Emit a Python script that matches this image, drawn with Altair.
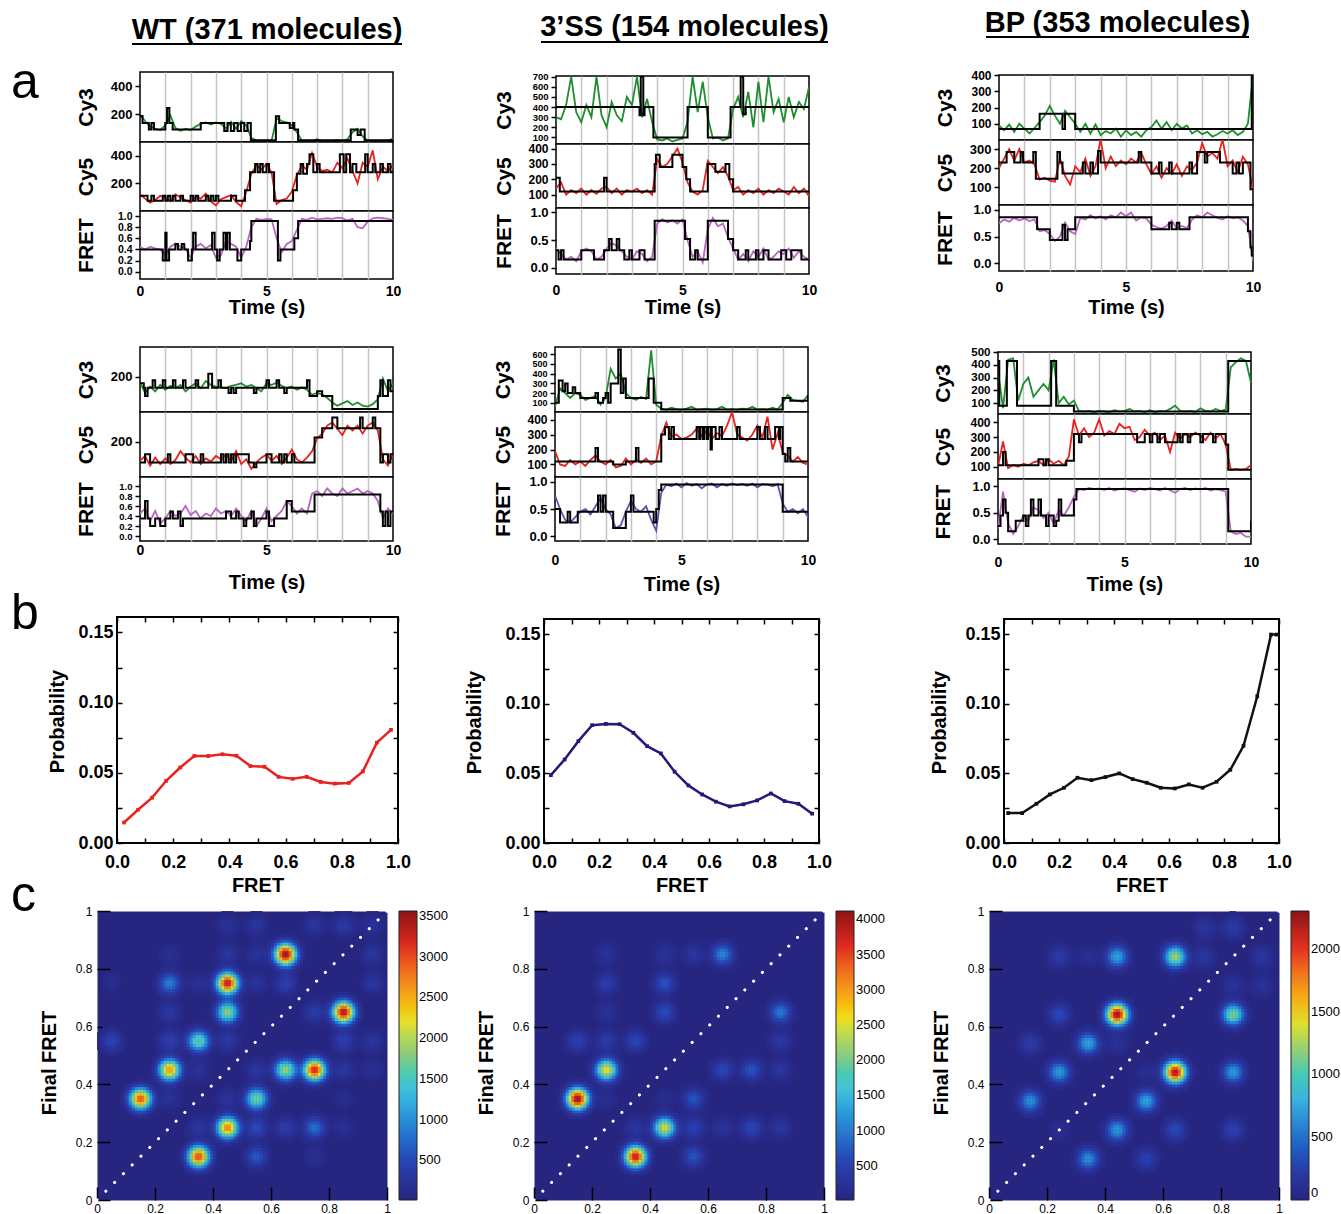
import altair as alt
import numpy as np
import pandas as pd

FONT = "Liberation Sans"

# ---------------------------------------------------------------- data
TIME = [0.0, 0.2, 0.4, 0.6, 0.8, 1.0, 1.2, 1.4, 1.6, 1.8,
        2.0, 2.2, 2.4, 2.6, 2.8, 3.0, 3.2, 3.4, 3.6, 3.8,
        4.0, 4.2, 4.4, 4.6, 4.8, 5.0, 5.2, 5.4, 5.6, 5.8,
        6.0, 6.2, 6.4, 6.6, 6.8, 7.0, 7.2, 7.4, 7.6, 7.8,
        8.0, 8.2, 8.4, 8.6, 8.8, 9.0, 9.2, 9.4, 9.6, 9.8,
        10.0]

# WT, molecule 1
WT1_CY3 = [195, 150, 110, 95, 85, 120, 190, 100, 80, 95,
           85, 110, 130, 140, 125, 140, 130, 95, 145, 95,
           150, 120, 30, 10, 5, 10, 8, 170, 150, 140,
           120, 70, 10, 5, 8, 20, 5, 10, 8, 15,
           5, 20, 70, 95, 40, 10, 5, 10, 5, 8,
           25]
WT1_CY3_FIT = [(0, 185), (0.1, 136), (0.35, 89), (0.45, 136), (0.55, 89), (1.0, 136), (1.07, 242),
               (1.16, 136), (1.29, 89), (2.4, 136), (3.33, 78), (3.46, 136), (3.59, 78), (3.72, 136),
               (3.86, 78), (3.99, 136), (4.12, 78), (4.25, 136), (4.38, 12), (5.37, 184), (5.5, 136),
               (5.92, 100), (6.05, 136), (6.1, 89), (6.25, 12), (8.33, 89), (8.6, 50), (8.72, 89),
               (8.88, 12), (10, 12)]
WT1_CY5 = [120, 90, 60, 80, 110, 95, 70, 120, 100, 80,
           60, 105, 90, 125, 70, 40, 85, 100, 115, 65,
           35, 140, 270, 330, 300, 340, 280, 50, 80, 90,
           140, 260, 330, 300, 420, 320, 290, 300, 280, 350,
           310, 380, 290, 200, 350, 320, 440, 230, 320, 290,
           330]
WT1_CY5_FIT = [(0, 110), (0.3, 75), (0.45, 110), (0.55, 75), (0.9, 110), (1.0, 75), (1.1, 110), (1.2, 75),
               (1.3, 110), (1.4, 75), (1.6, 110), (1.7, 75), (2.0, 110), (2.1, 75), (2.2, 110), (2.3, 75),
               (2.6, 110), (2.7, 75), (2.8, 110), (2.9, 75), (3.0, 110), (3.1, 75), (3.6, 110), (3.8, 75),
               (4.15, 150), (4.35, 280), (4.55, 340), (4.65, 280), (4.75, 340), (4.85, 280), (5.0, 340),
               (5.1, 280), (5.3, 75), (6.05, 150), (6.2, 270), (6.35, 340), (6.45, 270), (6.6, 340),
               (6.7, 412), (6.85, 280), (7.0, 340), (7.1, 280), (7.9, 412), (8.05, 280), (8.15, 412),
               (8.3, 280), (8.4, 340), (8.55, 280), (8.9, 412), (9.0, 280), (9.2, 340), (9.3, 280),
               (9.5, 340), (9.6, 280), (9.8, 340), (9.9, 280), (10, 280)]
WT1_FRET = [0.45, 0.40, 0.45, 0.42, 0.40, 0.30, 0.45, 0.50, 0.45, 0.42,
            0.25, 0.45, 0.50, 0.42, 0.48, 0.25, 0.30, 0.55, 0.50, 0.45,
            0.25, 0.45, 0.80, 0.95, 0.93, 0.95, 0.94, 0.60, 0.35, 0.50,
            0.55, 0.75, 0.95, 0.93, 0.97, 0.94, 0.95, 0.96, 0.95, 0.97,
            0.96, 0.92, 0.95, 0.80, 0.78, 0.90, 0.96, 0.97, 0.96, 0.95,
            0.93]
WT1_FRET_FIT = [(0, 0.4), (0.9, 0.2), (1.0, 0.7), (1.05, 0.2), (1.15, 0.4), (1.4, 0.5), (1.5, 0.4),
                (1.65, 0.5), (1.75, 0.4), (1.9, 0.2), (2.05, 0.4), (2.1, 0.7), (2.2, 0.4), (2.85, 0.7),
                (2.95, 0.4), (3.05, 0.2), (3.15, 0.4), (3.3, 0.7), (3.4, 0.4), (3.45, 0.7), (3.55, 0.4),
                (3.85, 0.2), (4.0, 0.4), (4.35, 0.55), (4.4, 0.91), (5.45, 0.2), (5.55, 0.4), (6.1, 0.6),
                (6.25, 0.91), (10, 0.91)]

# 3'SS, molecule 1
SS1_CY3 = [300, 280, 420, 700, 350, 250, 420, 300, 700, 320,
           200, 450, 320, 260, 500, 420, 700, 300, 480, 250,
           80, 70, 90, 60, 75, 90, 250, 700, 350, 650,
           300, 90, 100, 70, 90, 380, 500, 300, 550, 200,
           650, 250, 700, 350, 480, 250, 500, 300, 450, 380,
           600]
SS1_CY3_FIT = [(0, 400), (3.3, 320), (3.35, 700), (3.45, 320), (3.5, 400), (3.85, 100), (5.2, 400),
               (6.0, 100), (6.9, 400), (7.3, 700), (7.4, 330), (7.5, 400), (10, 400)]
SS1_CY5 = [140, 180, 100, 130, 110, 140, 100, 130, 105, 140,
           150, 110, 140, 100, 130, 120, 140, 110, 130, 100,
           330, 280, 300, 350, 400, 310, 180, 120, 100, 130,
           320, 280, 240, 280, 220, 130, 150, 100, 130, 110,
           140, 100, 130, 110, 140, 120, 100, 150, 110, 140,
           90]
SS1_CY5_FIT = [(0, 210), (0.15, 120), (1.9, 210), (2.0, 120), (3.9, 300), (3.95, 360), (4.1, 280),
               (4.6, 360), (5.0, 280), (5.15, 200), (5.3, 120), (6.0, 300), (6.3, 250), (6.7, 300),
               (6.85, 200), (7.0, 120), (10, 120)]
SS1_FRET = [0.35, 0.25, 0.15, 0.20, 0.12, 0.30, 0.35, 0.30, 0.15, 0.20,
            0.35, 0.45, 0.40, 0.30, 0.20, 0.15, 0.30, 0.25, 0.12, 0.20,
            0.80, 0.88, 0.82, 0.86, 0.80, 0.87, 0.50, 0.20, 0.30, 0.10,
            0.70, 0.90, 0.75, 0.80, 0.55, 0.35, 0.15, 0.25, 0.12, 0.30,
            0.20, 0.35, 0.15, 0.20, 0.30, 0.25, 0.35, 0.18, 0.30, 0.20,
            0.15]
SS1_FRET_FIT = [(0, 0.32), (0.1, 0.15), (0.2, 0.32), (0.3, 0.15), (1.0, 0.32), (1.5, 0.15), (1.9, 0.32),
                (2.1, 0.52), (2.2, 0.32), (2.4, 0.52), (2.5, 0.32), (2.7, 0.15), (2.9, 0.32), (3.0, 0.15),
                (3.3, 0.32), (3.5, 0.15), (3.9, 0.85), (5.1, 0.52), (5.3, 0.15), (5.5, 0.32), (5.6, 0.15),
                (6.0, 0.85), (6.8, 0.52), (7.0, 0.32), (7.2, 0.15), (7.5, 0.32), (7.6, 0.15), (7.9, 0.32),
                (8.0, 0.15), (8.2, 0.32), (8.4, 0.15), (8.9, 0.32), (9.1, 0.15), (9.3, 0.32), (9.7, 0.15),
                (10, 0.15)]

# BP, molecule 1
BP1_CY3 = [90, 60, 95, 50, 100, 70, 40, 75, 110, 150,
           210, 150, 100, 180, 140, 100, 50, 100, 40, 95,
           30, 55, 40, 70, 20, 60, 30, 50, 20, 60,
           80, 120, 70, 110, 60, 100, 70, 90, 40, 60,
           35, 50, 20, 35, 55, 40, 60, 30, 50, 100,
           400]
BP1_CY3_FIT = [(0, 68), (1.6, 161), (2.5, 68), (2.6, 161), (3.0, 68), (9.95, 400), (10, 400)]
BP1_CY5 = [200, 250, 300, 240, 300, 230, 240, 220, 140, 150,
           135, 130, 250, 160, 115, 210, 180, 250, 160, 210,
           350, 200, 260, 210, 240, 220, 250, 230, 280, 220,
           170, 210, 150, 200, 170, 220, 160, 210, 190, 230,
           330, 260, 280, 250, 350, 210, 240, 180, 260, 220,
           90]
BP1_CY5_FIT = [(0, 230), (0.3, 285), (0.6, 230), (0.85, 285), (0.95, 230), (1.35, 285), (1.45, 145),
               (2.3, 285), (2.4, 230), (2.5, 172), (3.3, 230), (3.4, 172), (3.6, 230), (3.7, 172),
               (3.9, 290), (4.0, 230), (5.5, 285), (5.6, 230), (6.0, 172), (6.3, 230), (6.4, 172),
               (6.7, 230), (6.8, 172), (7.5, 230), (7.6, 172), (7.8, 285), (8.1, 230), (8.2, 285),
               (8.7, 230), (9.2, 172), (9.35, 230), (9.45, 172), (9.6, 230), (9.9, 90), (10, 90)]
BP1_FRET = [0.75, 0.82, 0.78, 0.85, 0.80, 0.84, 0.79, 0.82, 0.60, 0.62,
            0.55, 0.42, 0.50, 0.76, 0.60, 0.55, 0.85, 0.82, 0.90, 0.84,
            0.88, 0.82, 0.90, 0.86, 0.95, 0.88, 0.95, 0.80, 0.86, 0.84,
            0.72, 0.68, 0.65, 0.70, 0.80, 0.65, 0.70, 0.66, 0.82, 0.90,
            0.86, 0.95, 0.90, 0.85, 0.82, 0.88, 0.84, 0.86, 0.80, 0.70,
            0.05]
BP1_FRET_FIT = [(0, 0.86), (1.5, 0.64), (2.0, 0.44), (2.5, 0.72), (2.6, 0.44), (2.7, 0.64), (3.0, 0.86),
                (6.0, 0.64), (6.7, 0.76), (6.8, 0.64), (7.0, 0.76), (7.1, 0.64), (7.5, 0.86), (9.8, 0.6),
                (9.9, 0.3), (9.95, 0.15), (10, 0.15)]

# WT, molecule 2
WT2_CY3 = [165, 100, 140, 110, 150, 120, 145, 130, 150, 110,
           140, 160, 130, 175, 150, 140, 135, 130, 145, 150,
           160, 140, 150, 130, 110, 160, 150, 165, 145, 130,
           140, 120, 135, 120, 90, 100, 90, 70, 40, 20,
           35, 50, 25, 40, 20, 15, 30, 60, 190, 110,
           160]
WT2_CY3_FIT = [(0, 160), (0.15, 133), (0.2, 81), (0.3, 133), (0.5, 179), (0.6, 133), (0.9, 179), (1.0, 133),
               (1.3, 179), (1.4, 133), (1.7, 179), (1.8, 133), (2.2, 179), (2.3, 133), (2.7, 220),
               (2.85, 133), (3.1, 179), (3.2, 133), (3.5, 100), (3.6, 133), (3.7, 100), (3.8, 133),
               (4.5, 100), (4.6, 133), (5.0, 179), (5.1, 133), (5.4, 179), (5.5, 133), (5.7, 100),
               (5.8, 133), (6.6, 179), (6.7, 81), (7.0, 110), (7.2, 81), (7.6, 0), (9.4, 81), (9.5, 179),
               (9.6, 81), (9.8, 179), (9.9, 110), (10, 110)]
WT2_CY5 = [80, 110, 50, 100, 60, 95, 60, 85, 140, 100,
           70, 110, 60, 95, 75, 110, 90, 120, 80, 140,
           60, 90, 30, 70, 100, 120, 80, 110, 60, 100,
           150, 90, 70, 100, 140, 220, 250, 300, 320, 280,
           240, 300, 270, 300, 250, 300, 320, 270, 90, 50,
           120]
WT2_CY5_FIT = [(0, 69), (0.2, 121), (0.4, 69), (1.1, 121), (1.2, 69), (1.8, 121), (2.1, 69), (2.4, 121),
               (2.5, 69), (3.2, 121), (3.3, 69), (3.4, 121), (3.5, 69), (3.6, 121), (3.7, 69), (3.8, 121),
               (4.3, 69), (4.5, 40), (4.6, 69), (5.0, 121), (5.2, 69), (5.5, 121), (5.6, 69), (5.7, 121),
               (5.8, 69), (6.0, 121), (6.1, 69), (6.9, 225), (7.2, 283), (7.6, 350), (7.8, 283),
               (8.7, 350), (8.8, 283), (9.2, 350), (9.3, 283), (9.5, 69), (9.6, 121), (9.8, 69),
               (9.9, 121), (10, 121)]
WT2_FRET = [0.45, 0.55, 0.30, 0.50, 0.25, 0.35, 0.50, 0.40, 0.45, 0.60,
            0.42, 0.50, 0.35, 0.45, 0.40, 0.55, 0.45, 0.50, 0.40, 0.55,
            0.40, 0.30, 0.50, 0.20, 0.35, 0.55, 0.30, 0.40, 0.50, 0.70,
            0.60, 0.45, 0.55, 0.45, 0.85, 0.90, 0.80, 0.95, 0.85, 0.80,
            0.95, 0.85, 0.90, 0.95, 0.85, 0.90, 0.85, 0.70, 0.35, 0.55,
            0.45]
WT2_FRET_FIT = [(0, 0.35), (0.2, 0.7), (0.3, 0.35), (0.4, 0.2), (0.6, 0.35), (0.8, 0.2), (1.0, 0.35),
                (1.2, 0.49), (1.3, 0.35), (1.5, 0.49), (1.6, 0.2), (1.7, 0.35), (3.4, 0.49), (3.6, 0.35),
                (3.8, 0.49), (3.9, 0.35), (4.1, 0.2), (4.2, 0.35), (4.4, 0.49), (4.5, 0.2), (4.6, 0.35),
                (5.0, 0.49), (5.1, 0.2), (5.3, 0.35), (5.8, 0.7), (6.0, 0.49), (6.9, 0.83), (9.5, 0.49),
                (9.6, 0.2), (9.7, 0.49), (9.8, 0.2), (9.9, 0.49), (10, 0.49)]

# 3'SS, molecule 2
SS2_CY3 = [60, 250, 200, 150, 200, 180, 130, 150, 170, 80,
           150, 450, 350, 400, 200, 150, 130, 160, 140, 640,
           80, 40, 30, 50, 35, 30, 40, 60, 30, 35,
           40, 30, 35, 60, 30, 35, 30, 40, 35, 60,
           30, 35, 30, 50, 30, 100, 180, 130, 120, 110,
           180]
SS2_CY3_FIT = [(0, 100), (0.15, 330), (0.3, 220), (0.4, 300), (0.5, 200), (0.7, 260), (0.8, 200),
               (1.0, 150), (1.6, 200), (1.7, 100), (1.9, 150), (2.0, 200), (2.1, 100), (2.2, 300),
               (2.5, 650), (2.6, 200), (2.7, 350), (2.8, 150), (3.7, 350), (3.9, 100), (4.2, 30),
               (9.0, 150), (9.3, 120), (10, 180)]
SS2_CY5 = [190, 100, 90, 130, 100, 120, 90, 130, 160, 120,
           100, 130, 80, 90, 140, 100, 130, 110, 140, 100,
           120, 290, 380, 290, 300, 270, 280, 300, 340, 290,
           330, 270, 310, 290, 360, 450, 300, 280, 260, 300,
           360, 280, 420, 200, 310, 180, 160, 120, 150, 110,
           100]
SS2_CY5_FIT = [(0, 120), (1.6, 210), (1.7, 120), (2.3, 100), (2.8, 120), (3.2, 210), (3.3, 120), (4.2, 300),
               (4.35, 350), (4.5, 270), (4.6, 350), (4.7, 270), (5.6, 350), (5.7, 270), (5.75, 350),
               (5.85, 270), (5.9, 350), (6.0, 270), (6.05, 350), (6.15, 200), (6.2, 350), (6.35, 270),
               (6.5, 350), (6.6, 270), (7.2, 350), (7.3, 270), (8.0, 350), (8.1, 270), (8.3, 350),
               (8.4, 270), (8.7, 350), (8.85, 270), (8.9, 350), (9.0, 170), (9.1, 120), (9.2, 210),
               (9.3, 120), (10, 120)]
SS2_FRET = [0.75, 0.50, 0.30, 0.25, 0.35, 0.45, 0.50, 0.40, 0.55, 0.70,
            0.50, 0.40, 0.15, 0.20, 0.45, 0.65, 0.50, 0.45, 0.55, 0.30,
            0.10, 0.80, 0.95, 0.92, 0.97, 0.90, 0.98, 0.93, 0.96, 0.88,
            0.95, 0.97, 0.90, 0.96, 0.93, 0.97, 0.94, 0.96, 0.93, 0.97,
            0.90, 0.96, 0.95, 0.92, 0.96, 0.60, 0.45, 0.50, 0.42, 0.50,
            0.35]
SS2_FRET_FIT = [(0, 0.5), (0.2, 0.25), (0.5, 0.45), (0.6, 0.25), (0.9, 0.45), (1.7, 0.75), (1.8, 0.45),
                (1.9, 0.75), (2.0, 0.45), (2.3, 0.15), (2.8, 0.45), (3.0, 0.75), (3.1, 0.45), (3.9, 0.25),
                (4.0, 0.5), (4.1, 0.85), (4.2, 0.95), (9.0, 0.45), (10, 0.45)]

# BP, molecule 2
BP2_CY3 = [350, 60, 440, 450, 120, 250, 300, 150, 200, 250,
           200, 440, 100, 150, 90, 120, 40, 35, 40, 30,
           40, 35, 30, 45, 35, 40, 55, 35, 40, 30,
           45, 30, 40, 35, 55, 80, 40, 35, 40, 30,
           60, 40, 35, 55, 40, 50, 380, 420, 450, 430,
           260]
BP2_CY3_FIT = [(0, 430), (0.05, 80), (0.35, 430), (0.75, 80), (2.1, 430), (2.3, 80), (3.0, 35),
               (9.1, 430), (10, 430)]
BP2_CY5 = [100, 270, 90, 110, 100, 120, 110, 130, 140, 110,
           150, 120, 140, 110, 170, 420, 310, 360, 300, 330,
           420, 310, 340, 320, 390, 360, 370, 280, 300, 350,
           310, 330, 280, 310, 200, 330, 290, 320, 300, 330,
           310, 280, 330, 290, 320, 250, 80, 85, 80, 85,
           110]
BP2_CY5_FIT = [(0, 110), (0.2, 200), (0.3, 110), (1.6, 150), (1.8, 110), (1.9, 150), (2.0, 110),
               (2.7, 140), (3.0, 321), (3.2, 265), (3.3, 321), (5.5, 265), (5.8, 321), (6.0, 265),
               (6.1, 321), (6.3, 265), (6.4, 321), (6.6, 265), (7.1, 321), (7.2, 265), (7.3, 321),
               (7.5, 265), (7.6, 321), (8.0, 265), (8.1, 321), (8.5, 265), (8.6, 321), (9.0, 250),
               (9.1, 80), (10, 80)]
BP2_FRET = [0.20, 0.90, 0.30, 0.10, 0.25, 0.45, 0.35, 0.60, 0.55, 0.40,
            0.50, 0.30, 0.55, 0.45, 0.60, 0.80, 0.95, 0.93, 0.97, 0.95,
            0.96, 0.93, 0.97, 0.92, 0.95, 0.96, 0.93, 0.90, 0.96, 0.93,
            0.97, 0.95, 0.92, 0.97, 0.93, 0.88, 0.95, 0.97, 0.93, 0.96,
            0.94, 0.97, 0.92, 0.95, 0.93, 0.90, 0.15, 0.10, 0.12, 0.05,
            0.05]
BP2_FRET_FIT = [(0, 0.25), (0.1, 0.45), (0.2, 0.75), (0.3, 0.5), (0.4, 0.15), (0.7, 0.35), (1.0, 0.45),
                (1.1, 0.25), (1.2, 0.45), (1.3, 0.75), (1.4, 0.45), (1.6, 0.75), (1.7, 0.45), (1.9, 0.25),
                (2.0, 0.45), (2.2, 0.25), (2.3, 0.35), (2.4, 0.75), (2.5, 0.45), (3.0, 0.75), (3.1, 0.95),
                (9.1, 0.15), (10, 0.35)]

# panel b: FRET histograms
WT_PROB_X = [0.025, 0.075, 0.125, 0.175, 0.225, 0.275, 0.325, 0.375, 0.425, 0.475,
             0.525, 0.575, 0.625, 0.675, 0.725, 0.775, 0.825, 0.875, 0.925, 0.975]
WT_PROB = [0.0146, 0.0237, 0.0323, 0.0443, 0.0538, 0.0620, 0.0620, 0.0632, 0.0622, 0.0548,
           0.0543, 0.0471, 0.0457, 0.0471, 0.0435, 0.0423, 0.0428, 0.0510, 0.0715, 0.0806]
SS_PROB_X = WT_PROB_X
SS_PROB = [0.0488, 0.0600, 0.0732, 0.0847, 0.0856, 0.0854, 0.0792, 0.0696, 0.0644, 0.0512,
           0.0414, 0.0349, 0.0297, 0.0263, 0.0278, 0.0306, 0.0356, 0.0301, 0.0282, 0.0211]
BP_PROB_X = [0.015, 0.066, 0.118, 0.167, 0.218, 0.267, 0.318, 0.369, 0.419, 0.468,
             0.519, 0.570, 0.621, 0.672, 0.722, 0.773, 0.823, 0.871, 0.921, 0.971, 0.991]
BP_PROB = [0.0215, 0.0215, 0.0282, 0.0349, 0.0397, 0.0469, 0.0452, 0.0474, 0.0500, 0.0459,
           0.0433, 0.0397, 0.0392, 0.0421, 0.0397, 0.0440, 0.0526, 0.0699, 0.1055, 0.1498, 0.1498]

# panel c: transition density peaks (initial FRET, final FRET, counts)
WT_TDP = [(0.65, 0.85, 3500), (0.45, 0.75, 3300), (0.85, 0.65, 3400), (0.45, 0.65, 1850), (0.35, 0.55, 1650),
          (0.25, 0.45, 2600), (0.15, 0.35, 2950), (0.65, 0.45, 1900), (0.75, 0.45, 3200), (0.55, 0.35, 1750),
          (0.45, 0.25, 2700), (0.35, 0.15, 3000), (0.25, 0.75, 900), (0.75, 0.25, 800), (0.55, 0.15, 650),
          (0.55, 0.25, 550), (0.65, 0.25, 400), (0.45, 0.55, 350), (0.25, 0.55, 450), (0.05, 0.55, 500),
          (0.25, 0.65, 350), (0.65, 0.75, 450), (0.85, 0.55, 450), (0.75, 0.65, 400), (0.95, 0.75, 300),
          (0.95, 0.85, 300), (0.45, 0.95, 250), (0.55, 0.95, 300), (0.85, 0.95, 350), (0.75, 0.95, 300),
          (0.95, 0.95, 250), (0.35, 0.25, 300), (0.45, 0.35, 250), (0.25, 0.35, 250), (0.35, 0.45, 250),
          (0.55, 0.45, 300), (0.85, 0.45, 300), (0.95, 0.45, 200), (0.95, 0.55, 300), (0.85, 0.25, 200),
          (0.85, 0.35, 150), (0.75, 0.15, 200), (0.05, 0.75, 150), (0.25, 0.85, 200), (0.45, 0.85, 300),
          (0.55, 0.85, 250), (0.35, 0.75, 200), (0.55, 0.75, 250)]
SS_TDP = [(0.15, 0.35, 4050), (0.35, 0.15, 3800), (0.25, 0.45, 2600), (0.45, 0.25, 2500), (0.65, 0.85, 1100),
          (0.85, 0.65, 1000), (0.45, 0.75, 700), (0.45, 0.65, 650), (0.35, 0.55, 600), (0.15, 0.55, 550),
          (0.25, 0.55, 450), (0.25, 0.75, 500), (0.25, 0.85, 300), (0.45, 0.85, 300), (0.55, 0.85, 350),
          (0.25, 0.65, 300), (0.65, 0.45, 600), (0.75, 0.45, 700), (0.85, 0.45, 350), (0.55, 0.35, 700),
          (0.55, 0.25, 550), (0.55, 0.15, 700), (0.65, 0.25, 300), (0.75, 0.25, 600), (0.85, 0.25, 350),
          (0.35, 0.25, 350), (0.85, 0.55, 400), (0.25, 0.35, 200), (0.45, 0.35, 150)]
BP_TDP = [(0.442, 0.642, 2250), (0.642, 0.442, 2200), (0.642, 0.842, 1250), (0.842, 0.642, 1150),
          (0.442, 0.842, 750), (0.342, 0.542, 750), (0.242, 0.442, 700), (0.142, 0.342, 650),
          (0.542, 0.342, 750), (0.442, 0.242, 700), (0.342, 0.142, 650), (0.842, 0.442, 700),
          (0.242, 0.642, 350), (0.142, 0.542, 250), (0.242, 0.842, 250), (0.342, 0.842, 120),
          (0.742, 0.842, 200), (0.842, 0.942, 250), (0.742, 0.942, 180), (0.942, 0.842, 200),
          (0.942, 0.742, 150), (0.842, 0.742, 150), (0.642, 0.242, 350), (0.542, 0.142, 300),
          (0.842, 0.242, 300), (0.442, 0.542, 150), (0.242, 0.242, 100), (0.542, 0.442, 100)]
DIAG_X = [0.0, 1.0]
DIAG_Y = [0.0, 1.0]

# ---------------------------------------------------------------- styling
GREEN, RED, MAGENTA, VIOLET = "#1f8e2f", "#e8221e", "#b866c1", "#5a54b6"
JET_STOPS = [0, 0.125, 0.25, 0.375, 0.5, 0.625, 0.75, 0.875, 1.0]
JET = ["#262680", "#2a3fb0", "#2f80d0", "#4cbfe0", "#8dc97e", "#f0e01e", "#f28a22", "#e32a20", "#8c1515"]
SIG = 0.025

ONE = pd.DataFrame({"k": [0]})
NOVIEW = alt.ViewBackground(stroke="transparent", fill="transparent")
TICK_T = [0, 1, 2, 3, 4, 5, 6, 7, 8, 9, 10]
TICK_F10 = [0.0, 0.1, 0.2, 0.3, 0.4, 0.5, 0.6, 0.7, 0.8, 0.9, 1.0]
TICK_F5 = [0.0, 0.2, 0.4, 0.6, 0.8, 1.0]
TICK_P = [0.0, 0.025, 0.05, 0.075, 0.1, 0.125, 0.15]
GRID_COLOR = {"condition": {"test": "datum.value > 0.01 && datum.value < 9.99", "value": "#c4c4c4"},
              "value": "transparent"}


def spacer(w, h):
    return alt.Chart(ONE).mark_point(opacity=0, size=1).encode(
        x=alt.value(1), y=alt.value(1)).properties(width=w, height=h, view=NOVIEW)


def letter_cell(letter):
    return alt.Chart(ONE).mark_text(text=letter, font=FONT, fontSize=50, align="left",
                                    baseline="alphabetic", color="black").encode(
        x=alt.value(0), y=alt.value(40)).properties(width=40, height=40, view=NOVIEW)


def title_cell(text, w, h, base_y, ul_y):
    t = alt.Chart(ONE).mark_text(text=text, font=FONT, fontSize=29, fontWeight="bold", align="center",
                                 baseline="alphabetic", color="black").encode(x=alt.value(w / 2), y=alt.value(base_y))
    r = alt.Chart(ONE).mark_rule(color="black", strokeWidth=2.2).encode(
        x=alt.value(0), x2=alt.value(w), y=alt.value(ul_y))
    return alt.layer(t, r).properties(width=w, height=h, view=NOVIEW)


def trace_panel(noisy, fit, color, dom, yvals, fmt, ytitle, w, h, title_x, bottom=None, lfs=13):
    nd = pd.DataFrame({"t": TIME, "v": noisy})
    fd = pd.DataFrame({"t": [p[0] for p in fit], "v": [p[1] for p in fit]})
    if bottom:
        lab_pad, title_y = bottom
        xaxis = alt.Axis(values=TICK_T, grid=True, gridColor=GRID_COLOR, gridWidth=1.5, domain=False,
                         ticks=False, labels=True, labelExpr="datum.value % 5 === 0 ? datum.label : ''",
                         labelFlush=False, labelPadding=lab_pad, labelFontSize=14, labelFontWeight="bold",
                         labelOverlap=False, title="Time (s)", titleFontSize=20, titleFontWeight="bold",
                         titleBaseline="top", titleX=w / 2, titleY=title_y)
    else:
        xaxis = alt.Axis(values=TICK_T, grid=True, gridColor=GRID_COLOR, gridWidth=1.5, domain=False,
                         ticks=False, labels=False, title=None)
    x = alt.X("t:Q", scale=alt.Scale(domain=[0, 10], nice=False, zero=False), axis=xaxis)
    y = alt.Y("v:Q", scale=alt.Scale(domain=dom, nice=False, zero=False),
              axis=alt.Axis(values=yvals, format=fmt, labelOverlap=False, labelFontSize=lfs,
                            labelFontWeight="bold", labelPadding=3, tickSize=5, tickWidth=1.5, domain=False,
                            grid=False, title=ytitle, titleFontSize=21, titleFontWeight="bold",
                            titleBaseline="alphabetic", titleX=title_x, titleY=h / 2, titleAngle=-90))
    noisy_l = alt.Chart(nd).mark_line(color=color, strokeWidth=1.8, clip=True).encode(x=x, y=y)
    fit_l = alt.Chart(fd).mark_line(color="black", strokeWidth=2, interpolate="step-after",
                                    clip=True).encode(x=x, y=y)
    return alt.layer(noisy_l, fit_l).properties(
        width=w, height=h, view=alt.ViewBackground(stroke="black", strokeWidth=1.5, fill="white"))


XLBL = ("indexof(['0.0','0.2','0.4','0.6','0.8','1.0'], format(datum.value, '.1f')) >= 0 ? "
        "format(datum.value, '.1f') : ''")
YLBL = ("indexof(['0.00','0.05','0.10','0.15'], format(datum.value, '.2f')) >= 0 ? "
        "format(datum.value, '.2f') : ''")


def prob_panel(xs, ys, color, w, h, title_x):
    df = pd.DataFrame({"f": xs, "p": ys})
    sx = alt.Scale(domain=[0, 1], nice=False, zero=False)
    sy = alt.Scale(domain=[0, 0.161], nice=False, zero=False)
    xa = alt.Axis(values=TICK_F10, labelExpr=XLBL, offset=-5, tickSize=5, tickWidth=1.5, domain=False,
                  grid=False, labelPadding=10, labelFontSize=18, labelFontWeight="bold", labelFlush=False,
                  labelOverlap=False, title="FRET", titleFontSize=20, titleFontWeight="bold",
                  titleBaseline="top", titleX=w / 2, titleY=37.5)
    ya = alt.Axis(values=TICK_P, labelExpr=YLBL, offset=-5, tickSize=5, tickWidth=1.5, domain=False,
                  grid=False, labelPadding=4, labelFontSize=18, labelFontWeight="bold", labelOverlap=False,
                  title="Probability", titleFontSize=20, titleFontWeight="bold", titleBaseline="alphabetic",
                  titleX=title_x, titleY=h / 2 - 9, titleAngle=-90)
    main = alt.Chart(df).mark_line(
        color=color, strokeWidth=2.5,
        point=alt.OverlayMarkDef(shape="square", size=14, filled=True, color=color)
    ).encode(x=alt.X("f:Q", scale=sx, axis=xa), y=alt.Y("p:Q", scale=sy, axis=ya))
    mirror = alt.Chart(df).mark_line(opacity=0).encode(
        x=alt.X("f:Q", scale=sx, axis=alt.Axis(orient="top", values=TICK_F10, labels=False, offset=-5,
                                                tickSize=5, tickWidth=1.5, domain=False, grid=False, title=None)),
        y=alt.Y("p:Q", scale=sy, axis=alt.Axis(orient="right", values=TICK_P, labels=False, offset=-5,
                                                tickSize=5, tickWidth=1.5, domain=False, grid=False, title=None)))
    return alt.layer(main, mirror).resolve_axis(x="independent", y="independent").properties(
        width=w, height=h, view=alt.ViewBackground(stroke="black", strokeWidth=2, fill="white"))


def tdp_cells(peaks, thr):
    n = 100
    c = (np.arange(n) + 0.5) / n
    X, Y = np.meshgrid(c, c)
    Z = np.zeros_like(X)
    for a, b, z in peaks:
        Z += z * np.exp(-((X - a) ** 2 + (Y - b) ** 2) / (2 * SIG ** 2))
    m = Z > thr
    half = 0.56 / n
    df = pd.DataFrame({"x0": X[m] - half, "x1": X[m] + half, "y0": Y[m] - half, "y1": Y[m] + half,
                       "z": Z[m]}).round(4)
    return df.sort_values("z")


def tdp_panel(peaks, lo, hi, leg_vals, w, h):
    df = tdp_cells(peaks, 0.011 * hi)
    dom = [lo + f * (hi - lo) for f in JET_STOPS]
    sx = alt.Scale(domain=[0, 1], nice=False, zero=False)
    sy = alt.Scale(domain=[0, 1], nice=False, zero=False)
    common = dict(values=TICK_F5, format="~g", offset=-13, tickSize=13, tickWidth=1.5, tickColor="black",
                  domain=False, grid=False, labelFontSize=12, labelFontWeight="normal",
                  labelFlush=False, labelOverlap=False)
    xa = alt.Axis(title=None, labelPadding=3, **common)
    ya = alt.Axis(title="Final FRET", titleFontSize=20, titleFontWeight="bold", titleX=-55, titleY=h / 2 + 7,
                  titleBaseline="alphabetic", titleAngle=-90, labelPadding=5, **common)
    rect = alt.Chart(df).mark_rect(clip=True).encode(
        x=alt.X("x0:Q", scale=sx, axis=xa), x2="x1",
        y=alt.Y("y0:Q", scale=sy, axis=ya), y2="y1",
        color=alt.Color("z:Q", scale=alt.Scale(domain=dom, range=JET, clamp=True),
                        legend=alt.Legend(title=None, orient="right", offset=12, gradientLength=h,
                                          gradientThickness=18, values=leg_vals, labelFontSize=13,
                                          labelOverlap=False, gradientStrokeColor="#222",
                                          gradientStrokeWidth=1, labelOffset=2, direction="vertical",
                                          format="d")))
    diag = alt.Chart(pd.DataFrame({"x0": DIAG_X, "y0": DIAG_Y})).mark_line(
        color="white", strokeWidth=3, strokeDash=[0.1, 12.3], strokeCap="round").encode(
        x=alt.X("x0:Q", scale=sx, axis=xa), y=alt.Y("y0:Q", scale=sy, axis=ya))
    return alt.layer(rect, diag).properties(
        width=w, height=h, view=alt.ViewBackground(fill=JET[0], stroke="transparent"))


def ind(c):
    return c.resolve_scale(color="independent").resolve_legend(color="independent")


def place(ch, x, y):
    """Wrap a panel so that, inside a flush layout, it sits at page position (x, y)."""
    inner = alt.hconcat(spacer(x, 1), ch, spacing=0, bounds="flush") if x > 0 else \
        alt.hconcat(ch, spacing=0, bounds="flush")
    inner = ind(inner)
    outer = alt.vconcat(spacer(1, y), inner, spacing=0, bounds="flush") if y > 0 else \
        alt.vconcat(inner, spacing=0, bounds="flush")
    return ind(outer)


F02 = [0.0, 0.2, 0.4, 0.6, 0.8, 1.0]
F05 = [0.0, 0.5, 1.0]

blocks = []
# titles and panel letters
blocks.append(place(title_cell("WT (371 molecules)", 270, 71, 38, 43), 131, 0))
blocks.append(place(title_cell("3\u2019SS (154 molecules)", 287, 75, 35, 41), 540, 0))
blocks.append(place(title_cell("BP (353 molecules)", 263, 74, 31, 36), 985, 0))
blocks.append(place(letter_cell("a"), 10, 57))
blocks.append(place(letter_cell("b"), 10, 588))
blocks.append(place(letter_cell("c"), 10, 870))

# molecule traces, first row
blocks.append(place(trace_panel(WT1_CY3, WT1_CY3_FIT, GREEN, [0, 500], [200, 400], "d", "Cy3",
                                253, 70, -48), 139, 71))
blocks.append(place(trace_panel(WT1_CY5, WT1_CY5_FIT, RED, [0, 500], [200, 400], "d", "Cy5",
                                253, 69, -48), 139, 141))
blocks.append(place(trace_panel(WT1_FRET, WT1_FRET_FIT, MAGENTA, [-0.13, 1.09], F02, ".1f", "FRET",
                                253, 68, -48, bottom=(5, 18.5), lfs=10.5), 139, 210))
blocks.append(place(trace_panel(SS1_CY3, SS1_CY3_FIT, GREEN, [35, 707], [100, 200, 300, 400, 500, 600, 700],
                                "d", "Cy3", 253, 68, -46, lfs=9.5), 555, 75))
blocks.append(place(trace_panel(SS1_CY5, SS1_CY5_FIT, RED, [13, 430], [100, 200, 300, 400], "d", "Cy5",
                                253, 64, -46, lfs=12), 555, 143))
blocks.append(place(trace_panel(SS1_FRET, SS1_FRET_FIT, MAGENTA, [-0.11, 1.08], F05, ".1f", "FRET",
                                253, 66, -46, bottom=(9, 23.5)), 555, 207))
blocks.append(place(trace_panel(BP1_CY3, BP1_CY3_FIT, GREEN, [0, 400], [100, 200, 300, 400], "d", "Cy3",
                                254, 65, -48, lfs=12), 998, 74))
blocks.append(place(trace_panel(BP1_CY5, BP1_CY5_FIT, RED, [8, 347], [100, 200, 300], "d", "Cy5",
                                254, 65, -48), 998, 139))
blocks.append(place(trace_panel(BP1_FRET, BP1_FRET_FIT, MAGENTA, [-0.14, 1.09], F05, ".1f", "FRET",
                                254, 66, -48, bottom=(9, 26.5)), 998, 204))

# molecule traces, second row
blocks.append(place(trace_panel(WT2_CY3, WT2_CY3_FIT, GREEN, [-19, 387], [200], "d", "Cy3",
                                253, 65, -48), 139, 346))
blocks.append(place(trace_panel(WT2_CY5, WT2_CY5_FIT, RED, [-21, 385], [200], "d", "Cy5",
                                253, 65, -48), 139, 411))
blocks.append(place(trace_panel(WT2_FRET, WT2_FRET_FIT, MAGENTA, [-0.1, 1.18], F02, ".1f", "FRET",
                                253, 64, -48, bottom=(2, 31.5), lfs=9.5), 139, 476))
blocks.append(place(trace_panel(SS2_CY3, SS2_CY3_FIT, GREEN, [5, 675], [100, 200, 300, 400, 500, 600], "d",
                                "Cy3", 253, 65, -46, lfs=9), 554, 346))
blocks.append(place(trace_panel(SS2_CY5, SS2_CY5_FIT, RED, [16, 451], [100, 200, 300, 400], "d", "Cy5",
                                253, 65, -46, lfs=12), 554, 411))
blocks.append(place(trace_panel(SS2_FRET, SS2_FRET_FIT, VIOLET, [-0.09, 1.09], F05, ".1f", "FRET",
                                253, 64, -46, bottom=(12, 33.5)), 554, 476))
blocks.append(place(trace_panel(BP2_CY3, BP2_CY3_FIT, GREEN, [15, 500], [100, 200, 300, 400, 500], "d",
                                "Cy3", 253, 62, -49, lfs=11.5), 997, 351))
blocks.append(place(trace_panel(BP2_CY5, BP2_CY5_FIT, RED, [17, 456], [100, 200, 300, 400], "d", "Cy5",
                                253, 65, -49, lfs=12), 997, 413))
blocks.append(place(trace_panel(BP2_FRET, BP2_FRET_FIT, MAGENTA, [-0.09, 1.14], F05, ".1f", "FRET",
                                253, 65, -49, bottom=(11, 30.5)), 997, 478))

# panel b
blocks.append(place(prob_panel(WT_PROB_X, WT_PROB, "#e8231f", 281, 226, -59), 116, 616))
blocks.append(place(prob_panel(SS_PROB_X, SS_PROB, "#231a78", 275, 224, -69), 543, 618))
blocks.append(place(prob_panel(BP_PROB_X, BP_PROB, "#111111", 275, 224, -64), 1003, 618))

# panel c
blocks.append(place(tdp_panel(WT_TDP, 12, 3560, [500, 1000, 1500, 2000, 2500, 3000, 3500], 290, 289),
                    96, 910))
blocks.append(place(tdp_panel(SS_TDP, 14, 4120, [500, 1000, 1500, 2000, 2500, 3000, 3500, 4000], 290, 289),
                    533, 910))
blocks.append(place(tdp_panel(BP_TDP, 0, 2300, [0, 500, 1000, 1500, 2000], 290, 289), 988, 910))

chart = ind(alt.hconcat(*blocks, spacing=0, bounds="flush")).properties(
    padding=0, background="white").configure_axis(
    labelFont=FONT, titleFont=FONT, labelColor="black", titleColor="black", tickColor="black").configure_legend(
    labelFont=FONT, labelColor="black")

chart.save("out.html", embed_options={"renderer": "svg", "actions": False})
